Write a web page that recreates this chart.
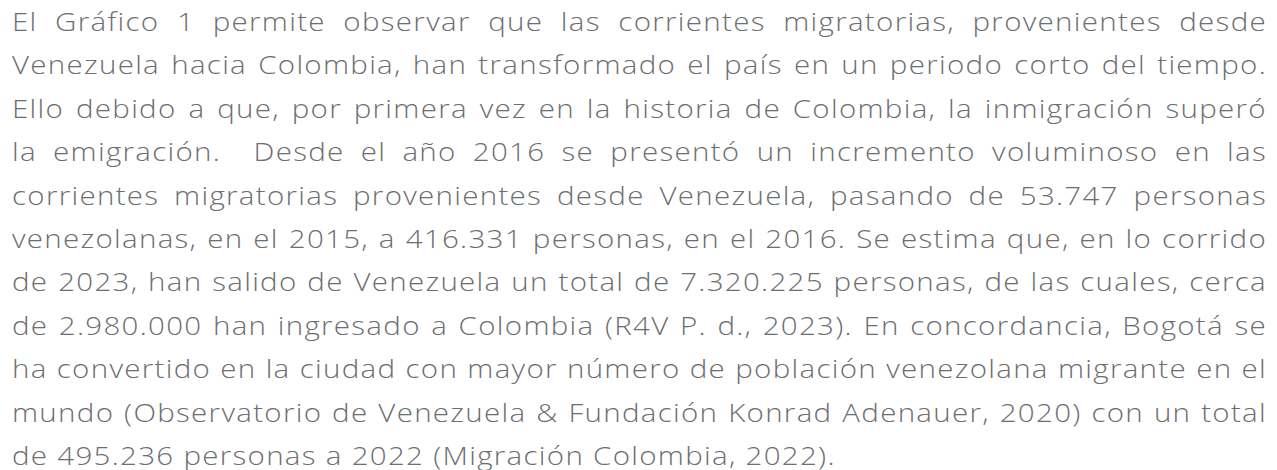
<!DOCTYPE html>
<html>
<head>
<meta charset="utf-8">
<script src="https://cdn.jsdelivr.net/npm/d3@7"></script>
<script src="https://cdn.jsdelivr.net/npm/@observablehq/plot@0.6"></script>
<style>
  html, body { margin: 0; padding: 0; background: #ffffff; }
  body { width: 1277px; height: 470px; overflow: hidden; }
  #text {
    position: absolute; left: 12px; top: 0px;
    font-family: "Open Sans", sans-serif; font-weight: 300;
    font-size: 25px; line-height: 43.4px; color: #6d6e70;
    transform-origin: 0 0;
  }
  .line { text-align: justify; text-align-last: justify; height: 43.4px; white-space: nowrap; }
  .line.last { text-align-last: left; }
  #probe { position: absolute; visibility: hidden; white-space: nowrap;
    font-family: "Open Sans", sans-serif; font-weight: 300; font-size: 25px; }
</style>
</head>
<body>
<div id="text"></div>
<span id="probe"></span>
<script>
const lines = [
  "El Gráfico 1 permite observar que las corrientes migratorias, provenientes desde",
  "Venezuela hacia Colombia, han transformado el país en un periodo corto del tiempo.",
  "Ello debido a que, por primera vez en la historia de Colombia, la inmigración superó",
  "la emigración.\u00a0 Desde el año 2016 se presentó un incremento voluminoso en las",
  "corrientes migratorias provenientes desde Venezuela, pasando de 53.747 personas",
  "venezolanas, en el 2015, a 416.331 personas, en el 2016. Se estima que, en lo corrido",
  "de 2023, han salido de Venezuela un total de 7.320.225 personas, de las cuales, cerca",
  "de 2.980.000 han ingresado a Colombia (R4V P. d., 2023). En concordancia, Bogotá se",
  "ha convertido en la ciudad con mayor número de población venezolana migrante en el",
  "mundo (Observatorio de Venezuela & Fundación Konrad Adenauer, 2020) con un total",
  "de 495.236 personas a 2022 (Migración Colombia, 2022)."
];
const stretch = 1.18;          // the reference face is wider than Open Sans
const columnWidth = 1255;      // px on screen
const lastLineWidth = 830;     // px on screen, closing line of the reference
const probe = d3.select("#probe");
const last = lines[lines.length - 1];
probe.text(last);
const natural = probe.node().getBoundingClientRect().width;
let spacing = Math.max(0, (lastLineWidth / stretch - natural) / (last.length - 1));
let widest = 0;
lines.slice(0, -1).forEach(s => {
  probe.text(s);
  widest = Math.max(widest, probe.node().getBoundingClientRect().width + spacing * s.length);
});
const inner = (columnWidth - 3) / stretch;
if (widest > inner) spacing -= (widest - inner) / 84;
d3.select("#text")
  .style("width", (columnWidth / stretch) + "px")
  .style("transform", `scaleX(${stretch})`)
  .style("letter-spacing", spacing + "px")
  .selectAll("div.line").data(lines).join("div")
  .attr("class", (d, i) => i === lines.length - 1 ? "line last" : "line")
  .text(d => d);
</script>
</body>
</html>
